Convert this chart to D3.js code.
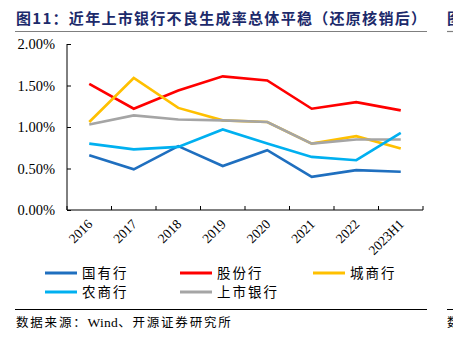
<!DOCTYPE html>
<html>
<head>
<meta charset="utf-8">
<script src="https://cdn.jsdelivr.net/npm/d3@7"></script>
<style>
  body { margin: 0; background: #fff; }
  svg { display: block; }
</style>
</head>
<body>
<div id="chart"></div>
<script>
// data
const years = ["2016", "2017", "2018", "2019", "2020", "2021", "2022", "2023H1"];
const yTicks = [0, 0.005, 0.01, 0.015, 0.02];
const seriesNames = ["国有行", "股份行", "城商行", "农商行", "上市银行"];
const seriesColors = ["#1f6fbf", "#ff0000", "#ffc000", "#00b0f0", "#a5a5a5"];
const stateBanks = [0.0066, 0.0049, 0.0077, 0.0053, 0.0072, 0.0040, 0.0048, 0.0046];
const jointStock = [0.0152, 0.0122, 0.0144, 0.0161, 0.0156, 0.0122, 0.0130, 0.0120];
const cityBanks = [0.0106, 0.0159, 0.0123, 0.0108, 0.0106, 0.0080, 0.0089, 0.0074];
const ruralBanks = [0.0080, 0.0073, 0.0076, 0.0097, 0.0080, 0.0064, 0.0060, 0.0093];
const listedBanks = [0.0103, 0.0114, 0.0109, 0.0108, 0.0106, 0.0080, 0.0085, 0.0085];
const seriesValues = [stateBanks, jointStock, cityBanks, ruralBanks, listedBanks];
// drawing order: the grey line sits over yellow, light blue sits on top
const drawOrder = [0, 1, 2, 4, 3];

const W = 453, H = 344;
const serif = "'Liberation Serif', 'Times New Roman', serif";
const cjk = "'Noto Sans CJK SC', sans-serif";

const svg = d3.select("#chart").append("svg")
    .attr("width", W)
    .attr("height", H);

// title + rules
svg.append("text")
    .attr("x", 16).attr("y", 24)
    .attr("font-family", cjk)
    .attr("font-weight", "bold")
    .attr("font-size", 15)
    .attr("fill", "#1c2a6b")
    .attr("textLength", 410)
    .attr("lengthAdjust", "spacing")
    .text("图11：近年上市银行不良生成率总体平稳（还原核销后）");
svg.append("text")
    .attr("x", 447).attr("y", 24)
    .attr("font-family", cjk)
    .attr("font-weight", "bold")
    .attr("font-size", 15)
    .attr("fill", "#1c2a6b")
    .text("图");
svg.append("line")
    .attr("x1", 15).attr("x2", 427).attr("y1", 31.5).attr("y2", 31.5)
    .attr("stroke", "#7f7f7f").attr("stroke-width", 1.2);
svg.append("line")
    .attr("x1", 447).attr("x2", 453).attr("y1", 31.5).attr("y2", 31.5)
    .attr("stroke", "#7f7f7f").attr("stroke-width", 1.2);

const x = d3.scaleBand()
    .domain(years)
    .range([67, 423]);

const y = d3.scaleLinear()
    .domain([0, 0.02])
    .range([210, 44]);

// y axis, ticks pointing inward
const yAxis = svg.append("g")
    .attr("transform", "translate(67,0)")
    .call(d3.axisRight(y).tickValues(yTicks).tickSize(4).tickFormat(""));
yAxis.select(".domain").attr("d", `M0,${y(0)}V${y(0.02)}`);
yAxis.selectAll("line, path").attr("stroke", "#000").attr("stroke-width", 1);

svg.selectAll(".ylab")
    .data(yTicks)
    .enter()
    .append("text")
    .attr("class", "ylab")
    .attr("x", 55)
    .attr("y", d => y(d) + 5)
    .attr("text-anchor", "end")
    .attr("font-family", serif)
    .attr("font-size", 14.5)
    .attr("fill", "#000")
    .text(d => d3.format(".2%")(d));

// x axis with band-edge ticks pointing up
const xEdges = years.map(d => x(d)).concat([x.range()[1]]);
svg.append("line")
    .attr("x1", 67).attr("x2", 423)
    .attr("y1", y(0)).attr("y2", y(0))
    .attr("stroke", "#000");
svg.selectAll(".xtick")
    .data(xEdges)
    .enter()
    .append("line")
    .attr("class", "xtick")
    .attr("x1", d => d).attr("x2", d => d)
    .attr("y1", y(0)).attr("y2", y(0) - 4)
    .attr("stroke", "#000");

svg.selectAll(".xlab")
    .data(years)
    .enter()
    .append("text")
    .attr("class", "xlab")
    .attr("text-anchor", "end")
    .attr("transform", d => `translate(${x(d) + x.bandwidth() / 2 + 4},${y(0) + 15}) rotate(-45)`)
    .attr("font-family", serif)
    .attr("font-size", 13.5)
    .attr("fill", "#000")
    .text(d => d);

// lines
const line = d3.line()
    .x((d, i) => x(years[i]) + x.bandwidth() / 2)
    .y(d => y(d));

drawOrder.forEach(k => {
    svg.append("path")
        .datum(seriesValues[k])
        .attr("fill", "none")
        .attr("stroke", seriesColors[k])
        .attr("stroke-width", 2.6)
        .attr("stroke-linejoin", "miter")
        .attr("d", line);
});

// legend
const legendPos = [[45, 273], [180, 273], [313, 273], [45, 292], [180, 292]];
seriesNames.forEach((name, k) => {
    const [lx, ly] = legendPos[k];
    svg.append("line")
        .attr("x1", lx).attr("x2", lx + 32)
        .attr("y1", ly).attr("y2", ly)
        .attr("stroke", seriesColors[k])
        .attr("stroke-width", 3);
    svg.append("text")
        .attr("x", lx + 37).attr("y", ly + 5)
        .attr("font-family", cjk)
        .attr("font-size", 13.5)
        .attr("letter-spacing", 2)
        .attr("fill", "#000")
        .text(name);
});

// footer
svg.append("line")
    .attr("x1", 15).attr("x2", 427).attr("y1", 309.5).attr("y2", 309.5)
    .attr("stroke", "#000").attr("stroke-width", 1);
svg.append("line")
    .attr("x1", 447).attr("x2", 453).attr("y1", 309.5).attr("y2", 309.5)
    .attr("stroke", "#000").attr("stroke-width", 1);
svg.append("text")
    .attr("x", 16).attr("y", 327)
    .attr("font-family", cjk)
    .attr("font-size", 12.5)
    .attr("letter-spacing", 1.8)
    .attr("fill", "#000")
    .text("数据来源：")
    .append("tspan")
    .attr("font-family", serif)
    .attr("font-size", 13.5)
    .attr("letter-spacing", 0.3)
    .text("Wind")
    .append("tspan")
    .attr("font-family", cjk)
    .attr("font-size", 12.5)
    .attr("letter-spacing", 1.8)
    .text("、开源证券研究所");
svg.append("text")
    .attr("x", 447).attr("y", 327)
    .attr("font-family", cjk)
    .attr("font-size", 12.5)
    .attr("fill", "#000")
    .text("数");
</script>
</body>
</html>
